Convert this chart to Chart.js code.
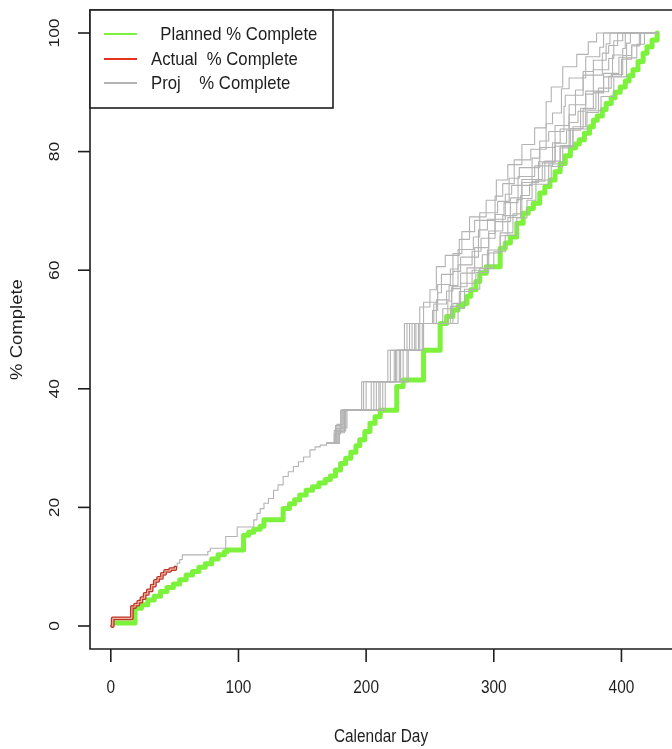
<!DOCTYPE html>
<html>
<head>
<meta charset="utf-8">
<script src="https://cdn.jsdelivr.net/npm/chart.js@4.4.1/dist/chart.umd.min.js"></script>
<style>
  html, body { margin: 0; padding: 0; background: #fff; }
  #wrap { width: 672px; height: 749px; }
</style>
</head>
<body>
<div id="wrap"><canvas id="myChart" width="672" height="749"></canvas></div>
<script>
// planned % complete (green step line)
const plannedDays = [2, 19, 24, 29, 34, 39, 44, 49, 54, 59, 64, 69, 74, 79, 84, 89, 91, 104, 108, 112,
  117, 120, 135, 140, 144, 148, 153, 158, 163, 168, 172, 176, 180, 184, 188, 192, 195, 199, 203, 207,
  211, 224, 229, 245, 258, 263, 268, 272, 276, 279, 282, 286, 289, 294, 305, 309, 313, 318, 323, 327,
  331, 336, 340, 344, 348, 352, 356, 360, 364, 367, 371, 375, 378, 381, 385, 388, 392, 395, 399, 403,
  406, 409, 413, 417, 420, 424, 428]
const plannedPct = [0.5, 3.0, 3.6, 4.4, 5.0, 5.8, 6.5, 7.1, 7.8, 8.6, 9.2, 9.9, 10.5, 11.3, 12.0, 12.5, 12.8, 15.3, 15.8, 16.3,
  16.8, 17.9, 19.8, 20.6, 21.3, 22.1, 22.9, 23.5, 24.1, 24.7, 25.3, 26.3, 27.4, 28.3, 29.3, 30.4, 31.4, 32.8, 34.2, 35.3,
  36.4, 40.4, 41.5, 46.5, 51.0, 52.2, 53.3, 53.9, 54.4, 55.6, 56.7, 58.1, 59.5, 60.6, 63.7, 64.6, 65.6, 67.9, 69.6, 70.4,
  71.3, 73.0, 74.1, 75.2, 76.6, 78.0, 79.3, 80.6, 81.3, 82.0, 83.1, 84.2, 85.3, 86.0, 87.1, 88.1, 89.1, 90.0, 90.9, 91.9,
  92.8, 93.8, 95.2, 96.6, 97.7, 98.8, 100]

// actual % complete (red)
const actualDays = [1, 1.5, 16.5, 19, 21.5, 24, 26.5, 29, 32, 34.5, 37, 40, 42.5, 46.5, 50.5]
const actualPct = [0, 1.3, 3.2, 3.6, 4.1, 4.7, 5.4, 6.0, 6.8, 7.6, 8.1, 8.8, 9.3, 9.6, 9.9]

// projections: shared start after the last actual point
const projStartDays = [50.5, 52, 54, 56, 76, 78, 90, 99, 112, 114.5, 117, 120, 123.5, 127.5, 131, 135, 139, 143, 147, 151, 156, 160, 164, 169]
const projStartPct = [9.9, 10.6, 11.2, 12.0, 12.6, 13.1, 15.1, 16.7, 17.9, 19.0, 19.8, 20.7, 21.5, 22.9, 23.8, 25.2, 26.0, 26.9, 27.7, 28.5, 29.7, 30.2, 30.5, 30.8]

// each projection run: days, and the % reached on that day
const projDays = [
  [175, 180, 196.5, 217, 230, 242, 250, 255, 262, 273, 281, 294, 302, 311, 322, 332, 341, 345, 354, 365, 374, 380.5],
  [175, 181, 198, 219, 232, 245, 256, 259, 268, 275, 285, 301, 307, 316, 329, 341, 346, 353, 359, 372, 383, 386],
  [176, 181, 200, 222, 234, 252, 256, 266, 272, 284, 289, 303, 312, 320, 336, 343, 355, 356, 370, 378, 388, 391],
  [176, 182, 204, 223, 236, 253, 263, 268, 274, 288, 295, 309, 314, 330, 336, 348, 359, 364, 370, 385, 390, 397],
  [177, 182, 206, 224, 238, 255, 265, 272, 283, 290, 301, 308, 319, 332, 346, 352, 359, 372, 378, 390, 394, 401],
  [177, 183, 208, 226, 239, 260, 267, 274, 285, 296, 301, 313, 322, 335, 348, 359, 366, 372, 386, 393, 401, 403],
  [178, 183, 210, 227, 241, 264, 267, 279, 291, 296, 307, 318, 322, 338, 348, 357, 368, 378, 386, 398, 404, 407],
  [178, 184, 211, 229, 242, 266, 273, 283, 295, 305, 311, 321, 328, 343, 352, 362, 372, 382, 392, 401, 408, 414],
  [179, 184, 213, 232, 244, 268, 274, 286, 296, 305, 315, 322, 330, 340, 352, 360, 370, 380, 390, 400, 408, 415],
  [179, 185, 215, 233, 245, 272, 277, 289, 300, 309, 318, 326, 333, 345, 354, 362, 373, 384, 394, 404, 412, 418]
]
const projPct = [
  [32.4, 36.4, 41.2, 46.5, 51.0, 53.8, 56.7, 60.6, 62.5, 65.2, 69.0, 71.8, 75.2, 77.8, 81.2, 84.0, 88.4, 90.9, 94.3, 96.4, 98.5, 100],
  [33.0, 36.4, 41.2, 46.5, 51.0, 54.6, 56.2, 59.3, 62.8, 66.5, 68.4, 72.5, 74.6, 78.6, 80.4, 84.7, 86.5, 90.6, 92.4, 96.0, 97.6, 100],
  [33.8, 36.4, 41.2, 46.5, 51.0, 53.2, 57.6, 60.2, 63.5, 65.6, 69.7, 71.6, 75.5, 77.3, 81.8, 83.4, 87.6, 89.5, 93.5, 95.4, 98.2, 100],
  [32.8, 36.4, 41.2, 46.5, 51.0, 54.3, 56.5, 59.8, 62.2, 66.8, 68.6, 72.8, 74.3, 78.9, 80.7, 84.4, 86.2, 90.4, 92.9, 96.6, 97.9, 100],
  [34.0, 36.4, 41.2, 46.5, 51.0, 55.0, 57.4, 60.9, 63.2, 65.4, 69.4, 71.4, 75.8, 77.6, 81.5, 83.8, 87.9, 89.7, 93.8, 95.7, 98.7, 100],
  [33.3, 36.4, 41.2, 46.5, 51.0, 53.5, 56.9, 59.5, 63.8, 66.2, 68.2, 72.2, 74.8, 78.3, 80.9, 84.9, 86.8, 90.2, 92.6, 96.3, 97.4, 100],
  [32.6, 36.4, 41.2, 46.5, 51.0, 54.8, 57.2, 60.4, 62.6, 66.6, 69.2, 71.9, 75.3, 78.1, 81.4, 83.6, 87.3, 89.9, 93.2, 95.9, 98.3, 100],
  [33.6, 36.4, 41.2, 46.5, 51.0, 53.9, 56.4, 60.0, 63.4, 65.8, 68.9, 72.6, 74.5, 77.9, 81.0, 84.2, 86.6, 90.7, 93.0, 96.2, 97.8, 100],
  [32.9, 36.4, 41.2, 46.5, 51.0, 54.4, 57.8, 59.6, 62.9, 66.3, 69.5, 72.1, 75.0, 78.4, 80.6, 83.9, 87.2, 90.1, 92.7, 95.6, 98.0, 100],
  [33.4, 36.4, 41.2, 46.5, 51.0, 53.6, 56.8, 60.3, 63.1, 65.9, 68.8, 71.8, 75.2, 77.5, 80.8, 83.8, 86.9, 89.3, 92.6, 95.8, 98.1, 100]
]

const xTicks = [0, 100, 200, 300, 400]
const yTicks = [0, 20, 40, 60, 80, 100]
const legendLabels = ['  Planned % Complete', 'Actual  % Complete', 'Proj    % Complete']

const green = '#7CF23C'
const red = '#E8321E'
const grey = '#B3B3B3'
const ink = '#1e1e1e'
const family = '"Liberation Sans", Arial, sans-serif'
const squeeze = 0.88   // the original picture is a little narrower than it is tall

const pts = (xs, ys) => xs.map((d, i) => ({ x: d, y: ys[i] }))
const endDay = plannedDays[plannedDays.length - 1]

const projSets = projDays.map((days, i) => {
  const tail = pts(days, projPct[i])
  tail.push({ x: endDay, y: 100 })
  const head = i === 0
    ? pts(projStartDays, projStartPct)
    : [{ x: projStartDays[projStartDays.length - 1], y: projStartPct[projStartPct.length - 1] }]
  return {
    label: 'Proj ' + (i + 1),
    data: head.concat(tail),
    borderColor: grey,
    borderWidth: 1.1,
    stepped: true,
    order: 2
  }
})

const datasets = [
  { label: 'Planned', data: pts(plannedDays, plannedPct), borderColor: green, borderWidth: 5, stepped: true, order: 3 },
  ...projSets,
  { label: 'Actual outline', data: pts(actualDays, actualPct), borderColor: '#B8352A', borderWidth: 3.8, stepped: true, order: 1 },
  { label: 'Actual', data: pts(actualDays, actualPct), borderColor: '#F6B49C', borderWidth: 1.2, stepped: true, order: 0 }
]

function text(ctx, t, x, y, size, rotate) {
  ctx.save()
  ctx.font = size + 'px ' + family
  ctx.translate(x, y)
  ctx.scale(squeeze, 1)
  if (rotate) ctx.rotate(-Math.PI / 2)
  ctx.fillText(t, 0, 0)
  ctx.restore()
}

// R-style frame, axes, labels and legend
const rFrame = {
  id: 'rFrame',
  afterDraw(chart) {
    const { ctx, chartArea: a, scales: { x, y } } = chart
    ctx.save()
    ctx.strokeStyle = ink
    ctx.fillStyle = ink
    ctx.lineWidth = 1.6

    ctx.beginPath()
    ctx.moveTo(a.right + 2, a.top)
    ctx.lineTo(a.left, a.top)
    ctx.lineTo(a.left, a.bottom)
    ctx.lineTo(a.right + 2, a.bottom)
    ctx.stroke()

    ctx.textAlign = 'center'
    ctx.textBaseline = 'middle'
    xTicks.forEach(v => {
      const px = x.getPixelForValue(v)
      ctx.beginPath()
      ctx.moveTo(px, a.bottom)
      ctx.lineTo(px, a.bottom + 13)
      ctx.stroke()
      text(ctx, String(v), px, a.bottom + 39, 17.5)
    })
    yTicks.forEach(v => {
      const py = y.getPixelForValue(v)
      ctx.beginPath()
      ctx.moveTo(a.left - 12, py)
      ctx.lineTo(a.left, py)
      ctx.stroke()
      text(ctx, String(v), a.left - 35, py, 17.5, true)
    })

    text(ctx, 'Calendar Day', (a.left + a.right) / 2, a.bottom + 88, 17.5)
    text(ctx, '% Complete', 18, (a.top + a.bottom) / 2, 18.5, true)

    // legend box
    const lx = a.left, ly = a.top, lw = 243, lh = 98
    ctx.fillStyle = '#fff'
    ctx.fillRect(lx, ly, lw, lh)
    ctx.strokeRect(lx, ly, lw, lh)
    const rows = [24, 49, 73]
    const cols = [green, red, grey]
    ctx.textAlign = 'left'
    legendLabels.forEach((t, i) => {
      ctx.strokeStyle = cols[i]
      ctx.lineWidth = 2
      ctx.beginPath()
      ctx.moveTo(lx + 14, ly + rows[i])
      ctx.lineTo(lx + 47, ly + rows[i])
      ctx.stroke()
      ctx.fillStyle = ink
      text(ctx, t, lx + 61, ly + rows[i] + 1, 19)
    })
    ctx.restore()
  }
}

const ctx = document.getElementById('myChart').getContext('2d')
const myChart = new Chart(ctx, {
  type: 'line',
  data: { datasets },
  options: {
    responsive: false,
    animation: false,
    layout: { padding: { left: 90, top: 10, right: 0, bottom: 100 } },
    elements: {
      point: { radius: 0 },
      line: { tension: 0, borderJoinStyle: 'round', borderCapStyle: 'round' }
    },
    scales: {
      x: { type: 'linear', min: -16.3, max: 439.6, display: false },
      y: { type: 'linear', min: -3.88, max: 103.88, display: false }
    },
    plugins: { legend: { display: false }, tooltip: { enabled: false } }
  },
  plugins: [rFrame]
})
</script>
</body>
</html>
